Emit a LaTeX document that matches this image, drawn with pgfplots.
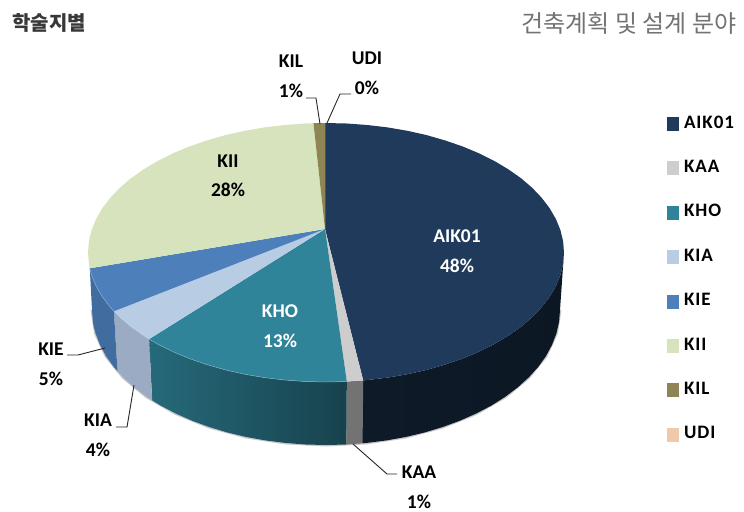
\documentclass[border=0pt]{standalone}
\usepackage{fontspec}
\usepackage{pgfplots}
\pgfplotsset{compat=1.18}
\setmainfont{Carlito}
\newfontfamily\cjk{Noto Sans CJK KR}
\definecolor{cAIK}{HTML}{1F3A5A}
\definecolor{cKAA}{HTML}{CDCDCD}
\definecolor{cKHO}{HTML}{2F8499}
\definecolor{cKIA}{HTML}{B8CCE4}
\definecolor{sKIA}{HTML}{9CABC4}
\definecolor{cKIE}{HTML}{4D7FBB}
\definecolor{cKII}{HTML}{D7E3BC}
\definecolor{cKIL}{HTML}{8F8453}
\definecolor{cUDI}{HTML}{F0C9A8}
\newcommand{\lab}{\fontsize{19.5bp}{29.5bp}\selectfont\bfseries}
\begin{document}
\begin{tikzpicture}
\begin{axis}[
    scale only axis, width=744bp, height=511bp,
    xmin=0, xmax=744, ymin=0, ymax=511, y dir=reverse,
    axis lines=none, clip=false,
    legend cell align=left,
    legend image code/.code={\fill[#1] (0bp,-7bp) rectangle (12bp,7bp); \path (17bp,0bp);},
    legend style={at={(axis cs:667,115)}, anchor=north west, draw=none, fill=none,
        row sep=26.4bp, inner sep=0pt, outer sep=0pt,
        font=\fontsize{19bp}{22bp}\selectfont\bfseries\addfontfeatures{LetterSpace=5},
        nodes={inner sep=0pt, text height=13bp, text depth=5bp}},
]
% keep the full page size
\path (axis cs:0,0) -- (axis cs:744,511);
% soft shadow under the disc
\addplot[draw=black, opacity=0.22, line width=3pt, forget plot] coordinates {
 (560,310)(556.4,333.4)(545.9,356.2)(528.6,377.5)(505.2,396.8)(476.4,413.4)(443,426.9)(406,436.9)(366.6,442.9)(326,445)
 (285.4,442.9)(246,436.9)(209,426.9)(175.6,413.4)(146.8,396.8)(123.4,377.5)(106.1,356.2)(95.6,333.4)(92,310)
};
% side faces
\addplot[draw=none, left color=cAIK!45!black, right color=cAIK!40!black, forget plot] coordinates {
 (564,252.5)(563.1,263.8)(560.4,275)(555.9,286)(549.6,296.8)(541.7,307.2)(532.1,317.3)(521,326.8)(508.3,335.7)(494.3,344.1)
 (479,351.7)(462.5,358.6)(445,364.6)(426.6,369.9)(407.4,374.2)(387.6,377.6)(367.3,380)(363.2,380.4)
 (362.6,443.3)(366.6,442.9)(386.6,440.4)(406,436.9)(424.9,432.4)(443,426.9)(460.2,420.6)(476.4,413.4)(491.5,405.5)(505.2,396.8)
 (517.7,387.4)(528.6,377.5)(538.1,367.1)(545.9,356.2)(552,344.9)(556.4,333.4)(559.1,321.8)(560,310)
} -- cycle;
\addplot[draw=none, fill=black!55, forget plot] coordinates {
 (363.2,380.4)(346.8,381.5)(346.4,444.5)(362.6,443.3)
} -- cycle;
\addplot[draw=none, left color=cKHO!80!black, right color=cKHO!50!black, forget plot] coordinates {
 (346.8,381.5)(326,382)(305.2,381.5)(284.7,380)(264.4,377.6)(244.6,374.2)(225.4,369.9)(207,364.6)(189.5,358.6)(173,351.7)(157.7,344.1)(149.1,339.1)
 (152.1,400.3)(160.5,405.5)(175.6,413.4)(191.8,420.6)(209,426.9)(227.1,432.4)(246,436.9)(265.4,440.4)(285.4,442.9)(305.6,444.5)(326,445)(346.4,444.5)
} -- cycle;
\addplot[draw=none, fill=sKIA, forget plot] coordinates {
 (149.1,339.1)(143.7,335.7)(131,326.8)(119.9,317.3)(113.9,311.3)
 (117.5,371.3)(123.4,377.5)(134.3,387.4)(146.8,396.8)(152.1,400.3)
} -- cycle;
\addplot[draw=none, fill=cKIE!85!black, forget plot] coordinates {
 (113.9,311.3)(110.3,307.2)(102.4,296.8)(96.1,286)(91.6,275)(89.8,268.3)
 (92,310)(92.9,321.8)(93.7,326.5)(95.6,333.4)(100,344.9)(106.1,356.2)(113.9,367.1)(117.5,371.3)
} -- cycle;
% top faces
\addplot[draw=none, fill=cAIK] coordinates {
 (325,229)(325,123)(346.8,123.5)(367.3,125)(387.6,127.4)(407.4,130.8)(426.6,135.1)(445,140.4)(462.5,146.4)(479,153.3)(494.3,160.9)
 (508.3,169.3)(521,178.2)(532.1,187.7)(541.7,197.8)(549.6,208.2)(555.9,219)(560.4,230)(563.1,241.2)
 (564,252.5)(563.1,263.8)(560.4,275)(555.9,286)(549.6,296.8)(541.7,307.2)(532.1,317.3)(521,326.8)(508.3,335.7)(494.3,344.1)
 (479,351.7)(462.5,358.6)(445,364.6)(426.6,369.9)(407.4,374.2)(387.6,377.6)(367.3,380)(363.2,380.4)
} -- cycle;
\addlegendentry{AIK01}
\addplot[draw=none, fill=cKAA] coordinates {
 (325,229)(363.2,380.4)(346.8,381.5)
} -- cycle;
\addlegendentry{KAA}
\addplot[draw=none, fill=cKHO] coordinates {
 (325,229)(346.8,381.5)(326,382)(305.2,381.5)(284.7,380)(264.4,377.6)(244.6,374.2)(225.4,369.9)(207,364.6)(189.5,358.6)(173,351.7)(157.7,344.1)(149.1,339.1)
} -- cycle;
\addlegendentry{KHO}
\addplot[draw=none, fill=cKIA] coordinates {
 (325,229)(149.1,339.1)(143.7,335.7)(131,326.8)(119.9,317.3)(113.9,311.3)
} -- cycle;
\addlegendentry{KIA}
\addplot[draw=none, fill=cKIE] coordinates {
 (325,229)(113.9,311.3)(110.3,307.2)(102.4,296.8)(96.1,286)(91.6,275)(89.8,268.3)
} -- cycle;
\addlegendentry{KIE}
\addplot[draw=none, fill=cKII] coordinates {
 (325,229)(89.8,268.3)(88.9,263.8)(88,252.5)(88.9,241.2)(91.6,230)(96.1,219)(102.4,208.2)(110.3,197.8)(119.9,187.7)(131,178.2)(143.7,169.3)
 (157.7,160.9)(173,153.3)(189.5,146.4)(207,140.4)(225.4,135.1)(244.6,130.8)(264.4,127.4)(284.7,125)(305.2,123.5)(313.5,123.2)
} -- cycle;
\addlegendentry{KII}
\addplot[draw=none, fill=cKIL] coordinates {
 (325,229)(313.5,123.2)(325,123)
} -- cycle;
\addlegendentry{KIL}
\addplot[draw=none, fill=cUDI] coordinates {
 (325,229)(325,123)
};
\addlegendentry{UDI}
% light rim on the front edge
\addplot[draw=cKHO!65!white, line width=0.5pt, forget plot] coordinates {
 (346.8,381.5)(326,382)(305.2,381.5)(284.7,380)(264.4,377.6)(244.6,374.2)(225.4,369.9)(207,364.6)(189.5,358.6)(173,351.7)(157.7,344.1)(149.1,339.1)
};
\addplot[draw=cKIE!65!white, line width=0.5pt, forget plot] coordinates {
 (113.9,311.3)(110.3,307.2)(102.4,296.8)(96.1,286)(91.6,275)(89.8,268.3)
};
% leader lines
\addplot[black!85, line width=0.9pt, forget plot] coordinates {(306,98)(316,98)(320,124)};
\addplot[black!85, line width=0.9pt, forget plot] coordinates {(351,94)(340,94)(327,123)};
\addplot[black!85, line width=0.9pt, forget plot] coordinates {(67,355)(78,355)(105,348)};
\addplot[black!85, line width=0.9pt, forget plot] coordinates {(116,427)(127,427)(134,385)};
\addplot[black!85, line width=0.9pt, forget plot] coordinates {(353,444)(387,474)(397,474)};
% titles and data labels
\node[text=black!55, font={\cjk\fontsize{24bp}{28bp}\selectfont}, anchor=east] at (axis cs:740,23) {건축계획 및 설계 분야};
\node[text=black!78, font={\cjk\fontsize{20bp}{24bp}\selectfont\bfseries}] at (axis cs:49,23) {학술지별};
\node[align=center, font=\lab] at (axis cs:291,76.5) {KIL\\1\%};
\node[align=center, font=\lab] at (axis cs:367,73.5) {UDI\\0\%};
\node[align=center, font=\lab] at (axis cs:228,176) {KII\\28\%};
\node[align=center, font=\lab, text=white] at (axis cs:457,251) {AIK01\\48\%};
\node[align=center, font=\lab, text=white] at (axis cs:280,326) {KHO\\13\%};
\node[align=center, font=\lab] at (axis cs:51,364) {KIE\\5\%};
\node[align=center, font=\lab] at (axis cs:98,435) {KIA\\4\%};
\node[align=center, font=\lab] at (axis cs:419,487) {KAA\\1\%};
\end{axis}
\end{tikzpicture}
\end{document}
